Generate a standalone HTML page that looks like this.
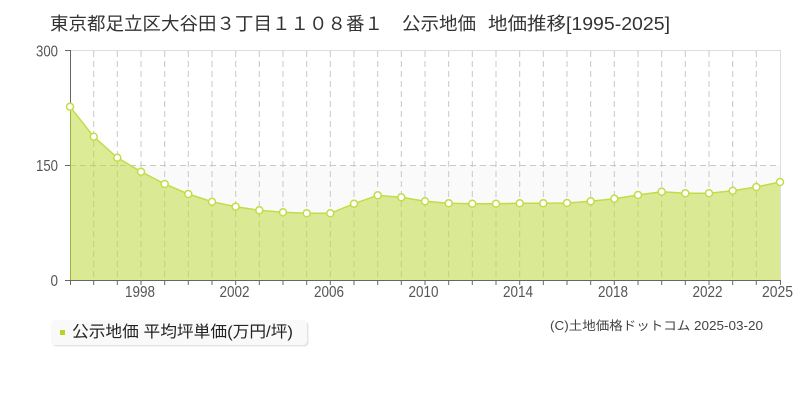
<!DOCTYPE html>
<html><head><meta charset="utf-8"><style>
html,body{margin:0;padding:0;background:#fff;}
svg{display:block;}
text{font-family:"Liberation Sans","Noto Sans CJK JP",sans-serif;}
</style></head><body>
<svg width="800" height="400" viewBox="0 0 800 400" xmlns="http://www.w3.org/2000/svg">
<!-- title -->
<text x="50" y="30" font-size="18" fill="#333" textLength="333" lengthAdjust="spacingAndGlyphs">東京都足立区大谷田３丁目１１０８番１</text>
<text x="402" y="30" font-size="18" fill="#333" textLength="74" lengthAdjust="spacingAndGlyphs">公示地価</text>
<text x="488" y="30" font-size="18" fill="#333" textLength="182" lengthAdjust="spacingAndGlyphs">地価推移[1995-2025]</text>

<!-- band 0-150 -->
<rect x="70" y="165" width="710" height="115" fill="#fbfafb"/>
<!-- borders -->
<line x1="70" y1="50.5" x2="780" y2="50.5" stroke="#dddddd" stroke-width="1"/>
<line x1="780.5" y1="50" x2="780.5" y2="280" stroke="#dddddd" stroke-width="1"/>

<!-- vertical grid -->
<g stroke="#c8c8c8" stroke-width="1" stroke-dasharray="6,4">
<line x1="93.7" y1="51" x2="93.7" y2="280"/>
<line x1="117.3" y1="51" x2="117.3" y2="280"/>
<line x1="141" y1="51" x2="141" y2="280"/>
<line x1="164.7" y1="51" x2="164.7" y2="280"/>
<line x1="188.3" y1="51" x2="188.3" y2="280"/>
<line x1="212" y1="51" x2="212" y2="280"/>
<line x1="235.7" y1="51" x2="235.7" y2="280"/>
<line x1="259.3" y1="51" x2="259.3" y2="280"/>
<line x1="283" y1="51" x2="283" y2="280"/>
<line x1="306.7" y1="51" x2="306.7" y2="280"/>
<line x1="330.3" y1="51" x2="330.3" y2="280"/>
<line x1="354" y1="51" x2="354" y2="280"/>
<line x1="377.7" y1="51" x2="377.7" y2="280"/>
<line x1="401.3" y1="51" x2="401.3" y2="280"/>
<line x1="425" y1="51" x2="425" y2="280"/>
<line x1="448.7" y1="51" x2="448.7" y2="280"/>
<line x1="472.3" y1="51" x2="472.3" y2="280"/>
<line x1="496" y1="51" x2="496" y2="280"/>
<line x1="519.7" y1="51" x2="519.7" y2="280"/>
<line x1="543.3" y1="51" x2="543.3" y2="280"/>
<line x1="567" y1="51" x2="567" y2="280"/>
<line x1="590.7" y1="51" x2="590.7" y2="280"/>
<line x1="614.3" y1="51" x2="614.3" y2="280"/>
<line x1="638" y1="51" x2="638" y2="280"/>
<line x1="661.7" y1="51" x2="661.7" y2="280"/>
<line x1="685.3" y1="51" x2="685.3" y2="280"/>
<line x1="709" y1="51" x2="709" y2="280"/>
<line x1="732.7" y1="51" x2="732.7" y2="280"/>
<line x1="756.3" y1="51" x2="756.3" y2="280"/>
<line x1="70" y1="165.5" x2="780" y2="165.5"/>
</g>

<!-- area -->
<path d="M70,106.7 L93.7,136.7 L117.3,157.7 L141,171.7 L164.7,184 L188.3,194 L212,201.7 L235.7,206.7 L259.3,210.3 L283,212.3 L306.7,213.3 L330.3,213.3 L354,203.7 L377.7,195.3 L401.3,197.3 L425,201.3 L448.7,203.3 L472.3,203.7 L496,203.7 L519.7,203.3 L543.3,203.3 L567,203 L590.7,201.3 L614.3,198.7 L638,195 L661.7,191.7 L685.3,193.3 L709,193.3 L732.7,190.7 L756.3,187 L780,182 L780,280 L70,280 Z" fill="rgba(185,218,45,0.5)"/>
<path d="M70,106.7 L93.7,136.7 L117.3,157.7 L141,171.7 L164.7,184 L188.3,194 L212,201.7 L235.7,206.7 L259.3,210.3 L283,212.3 L306.7,213.3 L330.3,213.3 L354,203.7 L377.7,195.3 L401.3,197.3 L425,201.3 L448.7,203.3 L472.3,203.7 L496,203.7 L519.7,203.3 L543.3,203.3 L567,203 L590.7,201.3 L614.3,198.7 L638,195 L661.7,191.7 L685.3,193.3 L709,193.3 L732.7,190.7 L756.3,187 L780,182" fill="none" stroke="#c2dc48" stroke-width="1.5"/>

<!-- axes -->
<line x1="70.5" y1="50" x2="70.5" y2="280" stroke="#666" stroke-width="1"/>
<line x1="70.5" y1="107" x2="70.5" y2="280" stroke="#9cb040" stroke-width="1"/>
<line x1="70" y1="280.5" x2="781" y2="280.5" stroke="#666" stroke-width="1"/>
<g stroke="#666" stroke-width="1">
<line x1="65" y1="50.5" x2="70" y2="50.5"/>
<line x1="65" y1="165.5" x2="70" y2="165.5"/>
<line x1="65" y1="280.5" x2="70" y2="280.5"/>
<line x1="70.5" y1="280" x2="70.5" y2="285"/>
<line x1="93.7" y1="280" x2="93.7" y2="285"/>
<line x1="117.3" y1="280" x2="117.3" y2="285"/>
<line x1="141" y1="280" x2="141" y2="285"/>
<line x1="164.7" y1="280" x2="164.7" y2="285"/>
<line x1="188.3" y1="280" x2="188.3" y2="285"/>
<line x1="212" y1="280" x2="212" y2="285"/>
<line x1="235.7" y1="280" x2="235.7" y2="285"/>
<line x1="259.3" y1="280" x2="259.3" y2="285"/>
<line x1="283" y1="280" x2="283" y2="285"/>
<line x1="306.7" y1="280" x2="306.7" y2="285"/>
<line x1="330.3" y1="280" x2="330.3" y2="285"/>
<line x1="354" y1="280" x2="354" y2="285"/>
<line x1="377.7" y1="280" x2="377.7" y2="285"/>
<line x1="401.3" y1="280" x2="401.3" y2="285"/>
<line x1="425" y1="280" x2="425" y2="285"/>
<line x1="448.7" y1="280" x2="448.7" y2="285"/>
<line x1="472.3" y1="280" x2="472.3" y2="285"/>
<line x1="496" y1="280" x2="496" y2="285"/>
<line x1="519.7" y1="280" x2="519.7" y2="285"/>
<line x1="543.3" y1="280" x2="543.3" y2="285"/>
<line x1="567" y1="280" x2="567" y2="285"/>
<line x1="590.7" y1="280" x2="590.7" y2="285"/>
<line x1="614.3" y1="280" x2="614.3" y2="285"/>
<line x1="638" y1="280" x2="638" y2="285"/>
<line x1="661.7" y1="280" x2="661.7" y2="285"/>
<line x1="685.3" y1="280" x2="685.3" y2="285"/>
<line x1="709" y1="280" x2="709" y2="285"/>
<line x1="732.7" y1="280" x2="732.7" y2="285"/>
<line x1="756.3" y1="280" x2="756.3" y2="285"/>
<line x1="780.5" y1="280" x2="780.5" y2="285"/>
</g>

<!-- markers -->
<g fill="#fff" stroke="#c2dc48" stroke-width="1.5">
<circle cx="70" cy="106.7" r="3.5"/>
<circle cx="93.7" cy="136.7" r="3.5"/>
<circle cx="117.3" cy="157.7" r="3.5"/>
<circle cx="141" cy="171.7" r="3.5"/>
<circle cx="164.7" cy="184" r="3.5"/>
<circle cx="188.3" cy="194" r="3.5"/>
<circle cx="212" cy="201.7" r="3.5"/>
<circle cx="235.7" cy="206.7" r="3.5"/>
<circle cx="259.3" cy="210.3" r="3.5"/>
<circle cx="283" cy="212.3" r="3.5"/>
<circle cx="306.7" cy="213.3" r="3.5"/>
<circle cx="330.3" cy="213.3" r="3.5"/>
<circle cx="354" cy="203.7" r="3.5"/>
<circle cx="377.7" cy="195.3" r="3.5"/>
<circle cx="401.3" cy="197.3" r="3.5"/>
<circle cx="425" cy="201.3" r="3.5"/>
<circle cx="448.7" cy="203.3" r="3.5"/>
<circle cx="472.3" cy="203.7" r="3.5"/>
<circle cx="496" cy="203.7" r="3.5"/>
<circle cx="519.7" cy="203.3" r="3.5"/>
<circle cx="543.3" cy="203.3" r="3.5"/>
<circle cx="567" cy="203" r="3.5"/>
<circle cx="590.7" cy="201.3" r="3.5"/>
<circle cx="614.3" cy="198.7" r="3.5"/>
<circle cx="638" cy="195" r="3.5"/>
<circle cx="661.7" cy="191.7" r="3.5"/>
<circle cx="685.3" cy="193.3" r="3.5"/>
<circle cx="709" cy="193.3" r="3.5"/>
<circle cx="732.7" cy="190.7" r="3.5"/>
<circle cx="756.3" cy="187" r="3.5"/>
<circle cx="780" cy="182" r="3.5"/>
</g>

<!-- y labels -->
<g font-size="16" fill="#555" text-anchor="end">
<text x="58" y="56.5" textLength="22" lengthAdjust="spacingAndGlyphs">300</text>
<text x="58" y="171" textLength="22" lengthAdjust="spacingAndGlyphs">150</text>
<text x="58" y="286" textLength="7.5" lengthAdjust="spacingAndGlyphs">0</text>
</g>
<!-- x labels -->
<g font-size="16" fill="#555" text-anchor="middle">
<text x="140" y="297" textLength="30" lengthAdjust="spacingAndGlyphs">1998</text>
<text x="234.5" y="297" textLength="30" lengthAdjust="spacingAndGlyphs">2002</text>
<text x="329" y="297" textLength="30" lengthAdjust="spacingAndGlyphs">2006</text>
<text x="423.5" y="297" textLength="30" lengthAdjust="spacingAndGlyphs">2010</text>
<text x="518" y="297" textLength="30" lengthAdjust="spacingAndGlyphs">2014</text>
<text x="613" y="297" textLength="30" lengthAdjust="spacingAndGlyphs">2018</text>
<text x="707.5" y="297" textLength="30" lengthAdjust="spacingAndGlyphs">2022</text>
<text x="777.5" y="297" textLength="31" lengthAdjust="spacingAndGlyphs">2025</text>
</g>

<!-- legend -->
<rect x="52.5" y="321.5" width="256" height="25" rx="4" fill="#e4e4e4"/>
<rect x="51" y="320" width="256" height="25" rx="4" fill="#f9f9f9"/>
<rect x="60" y="330" width="5" height="5" fill="#b5d42a"/>
<text x="72" y="337" font-size="16" fill="#222" textLength="221" lengthAdjust="spacingAndGlyphs">公示地価 平均坪単価(万円/坪)</text>

<!-- copyright -->
<text x="550" y="330" font-size="12.5" fill="#444" textLength="213" lengthAdjust="spacingAndGlyphs">(C)土地価格ドットコム 2025-03-20</text>
</svg>
</body></html>
